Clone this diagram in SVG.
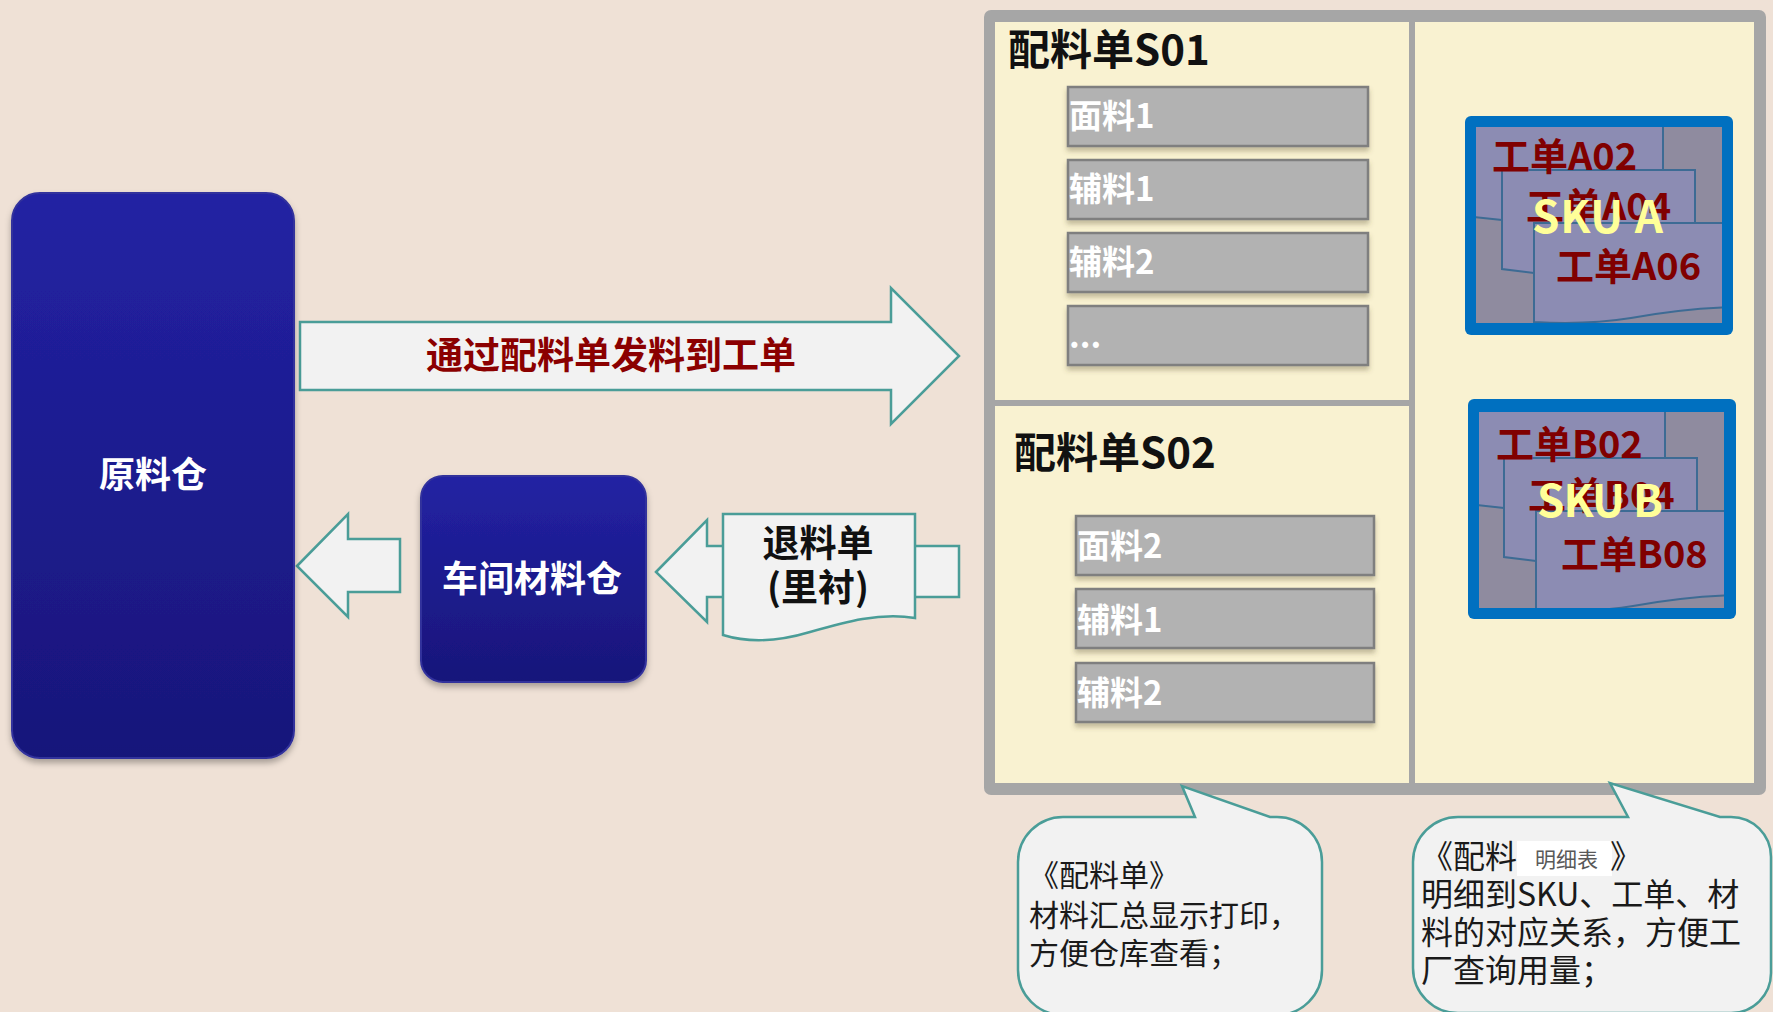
<svg xmlns="http://www.w3.org/2000/svg" width="1773" height="1012" viewBox="0 0 1773 1012">
<defs>
  <linearGradient id="blueGrad" x1="0" y1="0" x2="0" y2="1">
    <stop offset="0" stop-color="#2222A3"/>
    <stop offset="1" stop-color="#18167A"/>
  </linearGradient>
  <filter id="shadow" x="-10%" y="-10%" width="120%" height="130%">
    <feDropShadow dx="0" dy="4" stdDeviation="3" flood-color="#000" flood-opacity="0.3"/>
  </filter>
  <filter id="itemShadow" x="-5%" y="-20%" width="110%" height="160%">
    <feDropShadow dx="0" dy="4" stdDeviation="2.5" flood-color="#5a5030" flood-opacity="0.35"/>
  </filter>
  <clipPath id="clipA"><rect x="1476" y="127" width="246" height="196"/></clipPath>
  <clipPath id="clipB"><rect x="1479" y="412" width="245" height="196"/></clipPath>
  <style>
    text { font-family: "Noto Sans CJK SC", "Noto Sans", sans-serif; }
    .store { fill: url(#blueGrad); stroke: #30309C; stroke-width: 2; filter: url(#shadow); }
    .storeText { fill: #FFFFFF; font-weight: bold; font-size: 36px; text-anchor: middle; }
    .blockArrow { fill: #F2F2F2; stroke: #4A9D98; stroke-width: 2.5; stroke-linejoin: miter; }
    .item { fill: #B2B2B2; stroke: #7F7F7F; stroke-width: 2.5; filter: url(#itemShadow); }
    .itemText { fill: #FFFFFF; font-weight: bold; font-size: 33px; }
    .header { fill: #111111; font-weight: bold; font-size: 42px; }
    .skuFrame { fill: #0070C0; }
    .skuBg { fill: #8F8B9F; }
    .doc { fill: #8C8CB3; stroke: #3D6B94; stroke-width: 2; }
    .wo { fill: #800000; font-weight: bold; font-size: 38px; }
    .sku { fill: #FFFF99; font-weight: bold; font-size: 44px; }
    .callout { fill: #F2F2F2; stroke: #4A9D98; stroke-width: 2.5; }
    .note { fill: #1A1A1A; font-size: 30px; }
    .note2 { fill: #1A1A1A; font-size: 32px; }
  </style>
</defs>

<rect x="0" y="0" width="1773" height="1012" fill="#EFE1D6"/>

<!-- connectors (block arrows) -->
<g id="connectors">
  <polygon class="blockArrow" points="300,322 891,322 891,288 959,356 891,424 891,390 300,390"/>
  <text x="611" y="369" fill="#8B0000" font-weight="bold" font-size="37" text-anchor="middle">通过配料单发料到工单</text>
  <polygon class="blockArrow" points="297,566 348,514 348,539 400,539 400,592 348,592 348,617"/>
  <polygon class="blockArrow" points="656,572 707,520 707,546 959,546 959,597 707,597 707,622"/>
</g>

<!-- 退料单 document -->
<g id="node-return-doc">
  <path class="blockArrow" d="M723,514 H915 V618 C880,612 845,622 810,632 C780,641 752,644 723,635 Z"/>
  <text x="818" y="557" fill="#111" font-weight="bold" font-size="37" text-anchor="middle">退料单</text>
  <text x="818" y="601" fill="#111" font-weight="bold" font-size="37" text-anchor="middle">(里衬)</text>
</g>

<!-- 原料仓 -->
<g id="node-raw-warehouse">
  <rect class="store" x="12" y="193" width="282" height="565" rx="28"/>
  <text class="storeText" x="153" y="488">原料仓</text>
</g>

<!-- 车间材料仓 -->
<g id="node-workshop-warehouse">
  <rect class="store" x="421" y="476" width="225" height="206" rx="22"/>
  <text class="storeText" x="532" y="592">车间材料仓</text>
</g>

<!-- container frame -->
<g id="node-container">
  <rect x="984" y="10" width="782" height="785" rx="7" fill="#A6A6A6"/>
  <rect x="995" y="22" width="414" height="378" fill="#F9F2D1"/>
  <rect x="995" y="406" width="414" height="377" fill="#F9F2D1"/>
  <rect x="1415" y="22" width="339" height="761" fill="#F9F2D1"/>
</g>

<!-- 配料单S01 -->
<g id="node-s01">
  <text class="header" x="1008" y="65">配料单S01</text>
  <rect class="item" x="1068" y="87" width="300" height="59"/>
  <text class="itemText" x="1069" y="128">面料1</text>
  <rect class="item" x="1068" y="160" width="300" height="59"/>
  <text class="itemText" x="1069" y="201">辅料1</text>
  <rect class="item" x="1068" y="233" width="300" height="59"/>
  <text class="itemText" x="1069" y="274">辅料2</text>
  <rect class="item" x="1068" y="306" width="300" height="59"/>
  <text class="itemText" x="1069" y="348">...</text>
</g>

<!-- 配料单S02 -->
<g id="node-s02">
  <text class="header" x="1014" y="468">配料单S02</text>
  <rect class="item" x="1076" y="516" width="298" height="59"/>
  <text class="itemText" x="1077" y="558">面料2</text>
  <rect class="item" x="1076" y="589" width="298" height="59"/>
  <text class="itemText" x="1077" y="632">辅料1</text>
  <rect class="item" x="1076" y="663" width="298" height="59"/>
  <text class="itemText" x="1077" y="705">辅料2</text>
</g>

<!-- SKU A -->
<g id="node-sku-a">
  <rect class="skuFrame" x="1465" y="116" width="268" height="219" rx="6"/>
  <rect class="skuBg" x="1476" y="127" width="246" height="196"/>
  <g clip-path="url(#clipA)">
    <path class="doc" d="M1455,100 H1663 V200 L1502,220 L1455,215 Z"/>
    <path class="doc" d="M1502,170 H1695 V250 L1534,273 L1502,269 Z"/>
    <path class="doc" d="M1534,223 H1745 V307 C1705,307 1670,311 1631,318 C1600,323 1568,324 1534,322 Z"/>
  </g>
  <text class="wo" x="1492" y="170">工单A02</text>
  <text class="wo" x="1526" y="220">工单A04</text>
  <text class="wo" x="1556" y="280">工单A06</text>
  <text class="sku" x="1532" y="233" textLength="131">SKU A</text>
</g>

<!-- SKU B -->
<g id="node-sku-b">
  <rect class="skuFrame" x="1468" y="399" width="268" height="220" rx="6"/>
  <rect class="skuBg" x="1479" y="412" width="245" height="196"/>
  <g clip-path="url(#clipB)">
    <g transform="translate(2,288)">
      <path class="doc" d="M1455,100 H1663 V200 L1502,220 L1455,215 Z"/>
      <path class="doc" d="M1502,170 H1695 V250 L1534,273 L1502,269 Z"/>
      <path class="doc" d="M1534,223 H1745 V307 C1705,307 1670,311 1631,318 C1600,323 1568,324 1534,322 Z"/>
    </g>
  </g>
  <text class="wo" x="1496" y="458">工单B02</text>
  <text class="wo" x="1528" y="509">工单B04</text>
  <text class="wo" x="1561" y="568">工单B08</text>
  <text class="sku" x="1537" y="517" textLength="126">SKU B</text>
</g>

<!-- callout 1 -->
<g id="node-callout-1">
  <path class="callout" d="M1063,817 H1195 L1182,786 L1270,817 H1277 A45,45 0 0 1 1322,862 V970 A45,45 0 0 1 1277,1015 H1063 A45,45 0 0 1 1018,970 V862 A45,45 0 0 1 1063,817 Z"/>
  <text class="note" x="1029" y="886">《配料单》</text>
  <text class="note" x="1029" y="926">材料汇总显示打印，</text>
  <text class="note" x="1029" y="964">方便仓库查看；</text>
</g>

<!-- callout 2 -->
<g id="node-callout-2">
  <path class="callout" d="M1458,817 H1628 L1610,783 L1720,817 H1731 A40,40 0 0 1 1771,857 V973 A40,40 0 0 1 1731,1013 H1458 A45,45 0 0 1 1413,968 V862 A45,45 0 0 1 1458,817 Z"/>
  <text class="note2" x="1421" y="868">《配料</text>
  <rect x="1517" y="841" width="95" height="35" fill="#FFFFFF"/>
  <text x="1535" y="867" fill="#595959" font-size="21">明细表</text>
  <text class="note2" x="1610" y="868">》</text>
  <text class="note2" x="1421" y="906">明细到SKU、工单、材</text>
  <text class="note2" x="1421" y="944">料的对应关系，方便工</text>
  <text class="note2" x="1421" y="982">厂查询用量；</text>
</g>
</svg>
